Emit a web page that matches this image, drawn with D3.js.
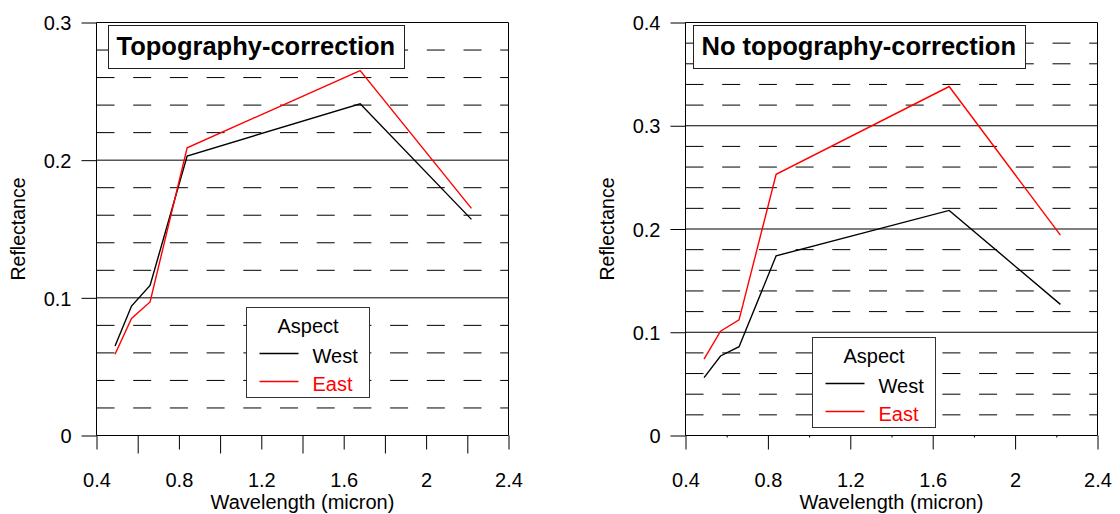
<!DOCTYPE html>
<html>
<head>
<meta charset="utf-8">
<script src="https://cdn.jsdelivr.net/npm/d3@7"></script>
<style>
  html, body { margin: 0; padding: 0; background: #fff; }
  svg { display: block; }
  text { font-family: "Liberation Sans", Arial, sans-serif; fill: #000; }
</style>
</head>
<body>
<svg id="chart" width="1120" height="514"></svg>
<script>
// Band-centre wavelengths (micron)
const wavelengths = [0.49, 0.57, 0.66, 0.84, 1.68, 2.22];

// Mean reflectance with topographic correction
const correctedWest = [0.065, 0.094, 0.109, 0.203, 0.241, 0.157];
const correctedEast = [0.059, 0.085, 0.097, 0.209, 0.265, 0.165];

// Mean reflectance without topographic correction
const uncorrectedWest = [0.056, 0.077, 0.086, 0.174, 0.218, 0.127];
const uncorrectedEast = [0.074, 0.101, 0.112, 0.253, 0.338, 0.194];

const panelTitles = ["Topography-correction", "No topography-correction"];
const seriesNames = ["West", "East"];
const seriesColors = ["#000000", "#ff0000"];
const legendTitle = "Aspect";
const xLabel = "Wavelength (micron)";
const yLabel = "Reflectance";

const xTickValues = [0.4, 0.6, 0.8, 1.0, 1.2, 1.4, 1.6, 1.8, 2.0, 2.2, 2.4];
const xLabelledTicks = [0.4, 0.8, 1.2, 1.6, 2.0, 2.4];
const yTicksCorrected = [0, 0.1, 0.2, 0.3];
const yTicksUncorrected = [0, 0.1, 0.2, 0.3, 0.4];

const svg = d3.select("#chart");
svg.append("rect").attr("width", 1120).attr("height", 514).attr("fill", "#fff");

const plotTop = 22.5, plotBottom = 435.5, plotWidth = 412;

const panels = [
  { title: panelTitles[0], series: [correctedWest, correctedEast], yTicks: yTicksCorrected,
    left: 96.5, titleDx: 20, legendX: 246, legendY: 307, minorTick: 18 },
  { title: panelTitles[1], series: [uncorrectedWest, uncorrectedEast], yTicks: yTicksUncorrected,
    left: 685.5, titleDx: 16, legendX: 812, legendY: 337, minorTick: 2 }
];

const fmt = d3.format("~g");
const near = (a, b) => Math.abs(a - b) < 1e-9;

panels.forEach(p => {
  const x = d3.scaleLinear().domain([0.4, 2.4]).range([p.left, p.left + plotWidth]);
  const yMax = p.yTicks[p.yTicks.length - 1];
  const y = d3.scaleLinear().domain([0, yMax]).range([plotBottom, plotTop]);
  const g = svg.append("g");

  // minor (dashed) and major (solid) horizontal grid
  const minor = d3.range(1, Math.round(yMax / 0.02)).map(i => +(i * 0.02).toFixed(2))
    .filter(v => !p.yTicks.some(t => near(t, v)));
  g.append("g").selectAll("line").data(minor).join("line")
    .attr("x1", x(0.4)).attr("x2", x(2.4))
    .attr("y1", d => y(d)).attr("y2", d => y(d))
    .attr("stroke", "#000").attr("stroke-width", 1)
    .attr("stroke-dasharray", "18,18.7");
  g.append("g").selectAll("line").data(p.yTicks.filter(t => t > 0 && t < yMax)).join("line")
    .attr("x1", x(0.4)).attr("x2", x(2.4))
    .attr("y1", d => y(d)).attr("y2", d => y(d))
    .attr("stroke", "#000").attr("stroke-width", 1);

  // frame: top and right
  g.append("path")
    .attr("d", `M${x(0.4)},${y(yMax)}H${x(2.4)}V${y(0)}`)
    .attr("fill", "none").attr("stroke", "#000").attr("stroke-width", 1);

  // y axis
  const yAxis = g.append("g").attr("transform", `translate(${x(0.4)},0)`)
    .call(d3.axisLeft(y).tickValues(p.yTicks).tickFormat(fmt).tickSize(15).tickPadding(10));
  yAxis.select(".domain").attr("stroke", "#000").attr("d", `M0,${y(0)}V${y(yMax)}`);
  yAxis.selectAll(".tick line").attr("stroke", "#000");
  yAxis.selectAll(".tick text").attr("font-size", 20).attr("fill", "#000")
    .attr("font-family", "Liberation Sans, Arial, sans-serif").attr("dy", "0.36em");

  // x axis
  const xAxis = g.append("g").attr("transform", `translate(0,${y(0)})`)
    .call(d3.axisBottom(x).tickValues(xTickValues)
      .tickFormat(d => xLabelledTicks.some(t => near(t, d)) ? fmt(d) : "")
      .tickSizeOuter(0));
  xAxis.select(".domain").attr("stroke", "#000").attr("d", `M${x(0.4)},0H${x(2.4)}`);
  xAxis.selectAll(".tick line").attr("stroke", "#000")
    .attr("y2", d => xLabelledTicks.some(t => near(t, d)) ? 14 : p.minorTick);
  xAxis.selectAll(".tick text").attr("font-size", 20).attr("fill", "#000")
    .attr("font-family", "Liberation Sans, Arial, sans-serif")
    .attr("y", 51.5).attr("dy", null);

  // axis titles
  g.append("text").attr("x", x(1.4)).attr("y", 509)
    .attr("text-anchor", "middle").attr("font-size", 20).text(xLabel);
  g.append("text")
    .attr("transform", `translate(${p.left - 72},${(plotTop + plotBottom) / 2}) rotate(-90)`)
    .attr("text-anchor", "middle").attr("font-size", 19.5).text(yLabel);

  // series lines
  const line = d3.line().x((d, i) => x(wavelengths[i])).y(d => y(d));
  p.series.forEach((s, k) => {
    g.append("path").datum(s).attr("d", line)
      .attr("fill", "none").attr("stroke", seriesColors[k]).attr("stroke-width", 1.4)
      .attr("stroke-linejoin", "miter");
  });

  // panel title box
  const tg = g.append("g");
  const tt = tg.append("text").attr("x", p.left + p.titleDx).attr("y", 55)
    .attr("font-size", 25.5).attr("font-weight", "bold").text(p.title);
  const bb = tt.node().getBBox();
  tg.insert("rect", "text")
    .attr("x", Math.round(bb.x - 8.5) + 0.5).attr("y", 25.5)
    .attr("width", Math.round(bb.width + 17)).attr("height", 43)
    .attr("fill", "#fff").attr("stroke", "#222").attr("stroke-width", 1);

  // legend
  const lg = g.append("g").attr("transform", `translate(${p.legendX + 0.5},${p.legendY + 0.5})`);
  lg.append("rect").attr("width", 123).attr("height", 90)
    .attr("fill", "#fff").attr("stroke", "#333").attr("stroke-width", 1);
  lg.append("text").attr("x", 61.5).attr("y", 25).attr("text-anchor", "middle")
    .attr("font-size", 20).text(legendTitle);
  seriesNames.forEach((name, k) => {
    const yy = 46 + k * 28;
    lg.append("line").attr("x1", 13).attr("x2", 52).attr("y1", yy).attr("y2", yy)
      .attr("stroke", seriesColors[k]).attr("stroke-width", 1.4);
    lg.append("text").attr("x", 66).attr("y", yy + 9).attr("font-size", 20)
      .style("fill", seriesColors[k]).text(name);
  });
});
</script>
</body>
</html>
